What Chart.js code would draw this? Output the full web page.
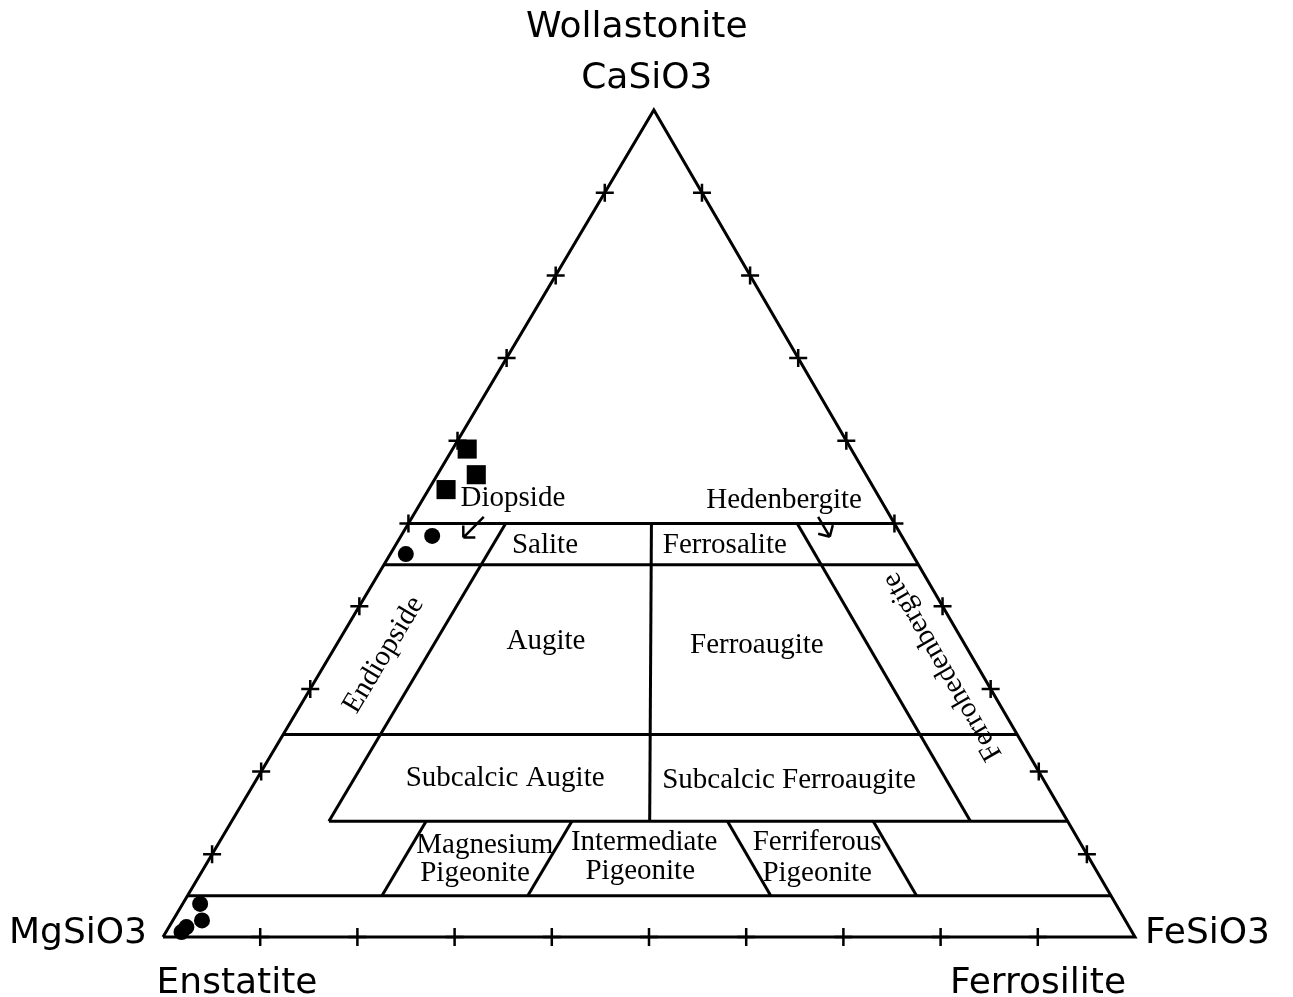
<!DOCTYPE html>
<html>
<head>
<meta charset="utf-8">
<title>Pyroxene quadrilateral</title>
<script src="https://cdn.jsdelivr.net/npm/chart.js@4.4.1/dist/chart.umd.min.js"></script>
<style>
  html, body { margin: 0; padding: 0; background: #fff; }
  #wrap { width: 1293px; height: 997px; }
</style>
</head>
<body>
<div id="wrap"><canvas id="pyxChart"></canvas></div>
<script>
// compositions in mol %, Wo = CaSiO3, Fs = FeSiO3, En = what is left
const tickValues = [10, 20, 30, 40, 50, 60, 70, 80, 90];

// horizontal boundaries (constant Wo) and the Fs where each one starts
const woBoundaries = [50, 45, 24.5, 14, 5];
const woStartFs = [0, 0, 0, 10, 0];

// boundaries of constant Fs and constant En, with their Wo range
const fsBoundaries = [10, 20, 35];
const fsBoundaryWo = [[14, 50], [5, 14], [5, 14]];
const enBoundaries = [10, 35, 20];
const enBoundaryWo = [[14, 50], [5, 14], [5, 14]];
const enEqualsFsWo = [14, 50];

// analysed samples
const squareWo = [59.0, 55.9, 54.1];
const squareFs = [1.5, 4.0, 1.8];
const circleWo = [48.5, 46.3, 4.0, 2.0, 1.2, 0.6];
const circleFs = [3.2, 1.6, 1.8, 3.0, 1.8, 1.6];

// the printed triangle leans a little: its apex sits slightly right of centre
const APEX_SHIFT = 0.505;

function tern(wo, fs) {
    return { x: (fs + wo * APEX_SHIFT) / 100, y: wo / 100 };
}

function segment(points) {
    return {
        data: points,
        showLine: true,
        borderColor: '#000',
        borderWidth: 3,
        pointRadius: 0,
        borderCapStyle: 'butt',
        clip: false
    };
}

const datasets = [];

// outline of the triangle
datasets.push(segment([tern(0, 0), tern(0, 100), tern(100, 0), tern(0, 0)]));

woBoundaries.forEach((wo, i) => {
    datasets.push(segment([tern(wo, woStartFs[i]), tern(wo, 100 - wo)]));
});
fsBoundaries.forEach((fs, i) => {
    const r = fsBoundaryWo[i];
    datasets.push(segment([tern(r[0], fs), tern(r[1], fs)]));
});
enBoundaries.forEach((en, i) => {
    const r = enBoundaryWo[i];
    datasets.push(segment([tern(r[0], 100 - en - r[0]), tern(r[1], 100 - en - r[1])]));
});
datasets.push(segment([
    tern(enEqualsFsWo[0], (100 - enEqualsFsWo[0]) / 2),
    tern(enEqualsFsWo[1], (100 - enEqualsFsWo[1]) / 2)
]));

// tick crosses along the three sides
const tickPoints = [];
tickValues.forEach(v => {
    tickPoints.push(tern(0, v));          // base
    tickPoints.push(tern(v, 0));          // En - Wo side
    tickPoints.push(tern(v, 100 - v));    // Fs - Wo side
});
datasets.push({
    data: tickPoints,
    pointStyle: 'cross',
    pointRadius: 9,
    borderColor: '#000',
    borderWidth: 2.5,
    showLine: false,
    clip: false
});

datasets.push({
    data: squareWo.map((wo, i) => tern(wo, squareFs[i])),
    pointStyle: 'rect',
    pointRadius: 13.5,
    backgroundColor: '#000',
    borderColor: '#000',
    borderWidth: 0,
    showLine: false,
    clip: false
});
datasets.push({
    data: circleWo.map((wo, i) => tern(wo, circleFs[i])),
    pointStyle: 'circle',
    pointRadius: 8,
    backgroundColor: '#000',
    borderColor: '#000',
    borderWidth: 0,
    showLine: false,
    clip: false
});

// field names, placed in the x/y frame of the diagram
const fieldLabels = [
    { text: 'Diopside', x: 0.360, y: 0.530 },
    { text: 'Hedenbergite', x: 0.639, y: 0.528 },
    { text: 'Salite', x: 0.393, y: 0.474 },
    { text: 'Ferrosalite', x: 0.578, y: 0.473 },
    { text: 'Augite', x: 0.394, y: 0.357 },
    { text: 'Ferroaugite', x: 0.611, y: 0.353 },
    { text: 'Endiopside', x: 0.227, y: 0.341, rot: -59 },
    { text: 'Ferrohedenbergite', x: 0.802, y: 0.327, rot: -120 },
    { text: 'Subcalcic Augite', x: 0.352, y: 0.192 },
    { text: 'Subcalcic Ferroaugite', x: 0.644, y: 0.189 },
    { text: 'Magnesium', x: 0.331, y: 0.111 },
    { text: 'Pigeonite', x: 0.321, y: 0.077 },
    { text: 'Intermediate', x: 0.495, y: 0.114 },
    { text: 'Pigeonite', x: 0.491, y: 0.079 },
    { text: 'Ferriferous', x: 0.673, y: 0.114 },
    { text: 'Pigeonite', x: 0.673, y: 0.077 }
];
const arrows = [
    { from: { x: 0.330, y: 0.508 }, to: { x: 0.309, y: 0.483 } },
    { from: { x: 0.674, y: 0.508 }, to: { x: 0.686, y: 0.484 } }
];

const labelPlugin = {
    id: 'pyxLabels',
    afterDatasetsDraw(chart) {
        const { ctx, scales } = chart;
        const px = p => [scales.x.getPixelForValue(p.x), scales.y.getPixelForValue(p.y)];
        ctx.save();
        ctx.fillStyle = '#000';
        ctx.strokeStyle = '#000';

        ctx.font = '29px "Liberation Serif", "Times New Roman", serif';
        ctx.textAlign = 'center';
        ctx.textBaseline = 'middle';
        fieldLabels.forEach(l => {
            const [x, y] = px(l);
            ctx.save();
            ctx.translate(x, y);
            if (l.rot) ctx.rotate(l.rot * Math.PI / 180);
            ctx.fillText(l.text, 0, 0);
            ctx.restore();
        });

        ctx.lineWidth = 2.5;
        arrows.forEach(a => {
            const [x1, y1] = px(a.from);
            const [x2, y2] = px(a.to);
            const ang = Math.atan2(y1 - y2, x1 - x2);
            ctx.beginPath();
            ctx.moveTo(x1, y1);
            ctx.lineTo(x2, y2);
            [-Math.PI / 4, Math.PI / 4].forEach(d => {
                ctx.moveTo(x2, y2);
                ctx.lineTo(x2 + 12 * Math.cos(ang + d), y2 + 12 * Math.sin(ang + d));
            });
            ctx.stroke();
        });

        // end members at the corners
        const [ax, ay] = px(tern(100, 0));
        const [lx, ly] = px(tern(0, 0));
        const [rx, ry] = px(tern(0, 100));
        ctx.font = '36px "DejaVu Sans", Verdana, sans-serif';
        ctx.textBaseline = 'alphabetic';
        ctx.textAlign = 'center';
        ctx.fillText('Wollastonite', ax - 17, ay - 73);
        ctx.fillText('CaSiO3', ax - 7, ay - 22);
        ctx.fillText('Enstatite', lx + 74, ly + 56);
        ctx.fillText('Ferrosilite', rx - 97, ry + 56);
        ctx.textAlign = 'right';
        ctx.fillText('MgSiO3', lx - 16, ly + 6);
        ctx.textAlign = 'left';
        ctx.fillText('FeSiO3', rx + 10, ry + 6);
        ctx.restore();
    }
};

new Chart(document.getElementById('pyxChart').getContext('2d'), {
    type: 'scatter',
    data: { datasets },
    options: {
        responsive: true,
        maintainAspectRatio: false,
        animation: false,
        layout: { padding: { left: 163, right: 158, top: 110, bottom: 60 } },
        scales: {
            x: { type: 'linear', min: 0, max: 1, display: false },
            y: { type: 'linear', min: 0, max: 1, display: false }
        },
        plugins: {
            legend: { display: false },
            tooltip: { enabled: false }
        }
    },
    plugins: [labelPlugin]
});
</script>
</body>
</html>
